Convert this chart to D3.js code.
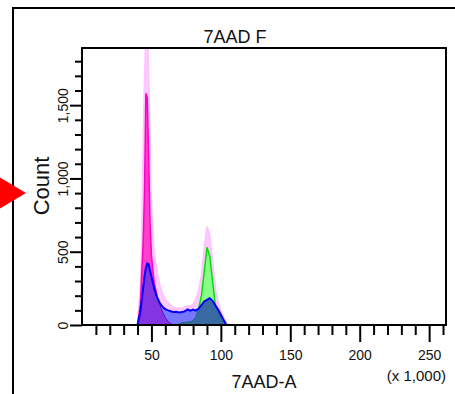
<!DOCTYPE html>
<html lang="en">
<head>
<meta charset="UTF-8">
<title>7AAD F</title>
<style>
  body { margin: 0; background: #fff; }
  svg { display: block; font-family: "Liberation Sans", Arial, sans-serif; }
  .tick line { stroke: #000; stroke-width: 2px; }
  .tick text { fill: #111; font-size: 14px; }
</style>
</head>
<body>
<div id="chart"></div>
<script src="https://d3js.org/d3.v7.min.js"></script>
<script>
  // bin centres, x 1,000
  var binK = [40,42,43,44,45,46,47,48,49,50,51,52,54,56,58,60,62,64,66,68,70,72,74,76,78,80,82,84,86,88,90,92,94,96,98,100,102,104,106];

  // all events (light pink outline)
  var allEvents = [0,220,500,1100,1600,1950,2000,1650,1150,780,600,480,360,270,210,170,150,130,118,115,112,114,120,130,125,140,170,230,330,500,670,610,420,250,150,95,50,12,0];
  // G0/G1 (magenta)
  var g1 = [0,140,350,550,900,1580,1550,1150,700,480,380,290,200,140,90,50,25,10,0,0,0,0,0,0,0,0,0,0,0,0,0,0,0,0,0,0,0,0,0];
  // G2/M (green)
  var g2 = [0,0,0,0,0,0,0,0,0,0,0,0,0,0,0,0,0,0,0,0,8,15,18,20,22,30,55,110,200,360,530,470,300,140,90,50,20,0,0];
  // second sample (blue)
  var sample = [0,90,170,250,330,390,420,415,370,330,290,250,190,150,125,108,100,94,88,90,86,88,94,106,98,106,98,112,135,160,172,182,165,135,105,70,35,0,0];

  var xMajor = [50,100,150,200,250];
  var yMajor = [0,500,1000,1500];

  var W = 455, H = 394;
  var svg = d3.select("#chart").append("svg").attr("width", W).attr("height", H);

  var plotL = 82, plotR = 446, plotT = 48, plotB = 325;
  var x = d3.scaleLinear().domain([0, 262.144]).range([plotL, plotR]);
  var y = d3.scaleLinear().domain([0, 1890]).range([plotB, plotT]);

  // outer frame
  svg.append("path")
    .attr("d", "M13," + H + "V8H" + W)
    .attr("fill", "none").attr("stroke", "#000").attr("stroke-width", 2);

  svg.append("clipPath").attr("id", "plot-clip")
    .append("rect").attr("x", plotL).attr("y", plotT)
    .attr("width", plotR - plotL).attr("height", plotB - plotT);

  var plot = svg.append("g").attr("clip-path", "url(#plot-clip)");

  function areaOf(vals) {
    return d3.area()
      .x(function(d, i) { return x(binK[i]); })
      .y0(y(0))
      .y1(function(d, i) { return y(vals[i]); })(binK);
  }
  function lineOf(vals) {
    return d3.line()
      .x(function(d, i) { return x(binK[i]); })
      .y(function(d, i) { return y(vals[i]); })(binK);
  }
  function overlap(a, b) {
    return a.map(function(v, i) { return Math.min(v, b[i]); });
  }

  plot.append("path").attr("d", areaOf(allEvents))
    .attr("fill", "#ffccff").attr("stroke", "#ffc4ff").attr("stroke-width", 2);

  plot.append("path").attr("d", areaOf(g1))
    .attr("fill", "#ff40cc").attr("stroke", "#ff00c8").attr("stroke-width", 1.5);

  plot.append("path").attr("d", areaOf(g2))
    .attr("fill", "#88ff88").attr("stroke", "#00e000").attr("stroke-width", 1.5);

  plot.append("path").attr("d", areaOf(sample))
    .attr("fill", "#7676ff");

  var purple = overlap(g1, sample);
  plot.append("path").attr("d", areaOf(purple))
    .attr("fill", "#8434e0").attr("stroke", "#6a10c0").attr("stroke-width", 1);

  var teal = overlap(g2, sample);
  plot.append("path").attr("d", areaOf(teal))
    .attr("fill", "#3a6aa4").attr("stroke", "#146a70").attr("stroke-width", 1);

  plot.append("path").attr("d", lineOf(sample))
    .attr("fill", "none").attr("stroke", "#0000ff").attr("stroke-width", 2);

  // plot frame
  svg.append("rect")
    .attr("x", plotL).attr("y", plotT)
    .attr("width", plotR - plotL).attr("height", plotB - plotT)
    .attr("fill", "none").attr("stroke", "#000").attr("stroke-width", 2);

  // x axis
  var xMinor = d3.range(10, 261, 10).filter(function(v) { return v % 50 !== 0; });
  svg.append("g").attr("transform", "translate(0," + plotB + ")")
    .call(d3.axisBottom(x).tickValues(xMinor).tickSize(10).tickFormat(""))
    .call(function(g) { g.select(".domain").remove(); });
  svg.append("g").attr("transform", "translate(0," + plotB + ")")
    .call(d3.axisBottom(x).tickValues(xMajor).tickSize(17).tickPadding(8).tickFormat(d3.format("d")))
    .call(function(g) { g.select(".domain").remove(); });

  // y axis
  var yMinor = d3.range(100, 1801, 100).filter(function(v) { return v % 500 !== 0; });
  svg.append("g").attr("transform", "translate(" + plotL + ",0)")
    .call(d3.axisLeft(y).tickValues(yMinor).tickSize(7).tickFormat(""))
    .call(function(g) { g.select(".domain").remove(); });
  svg.append("g").attr("transform", "translate(" + plotL + ",0)")
    .call(d3.axisLeft(y).tickValues(yMajor).tickSize(12).tickFormat(d3.format(",")))
    .call(function(g) {
      g.select(".domain").remove();
      g.selectAll(".tick text")
        .attr("x", 0).attr("dy", null)
        .attr("text-anchor", "middle")
        .attr("transform", "translate(-14,0) rotate(-90)");
    });

  // titles
  svg.append("text").attr("x", 235).attr("y", 43)
    .attr("text-anchor", "middle").attr("font-size", 18).attr("fill", "#111")
    .text("7AAD F");
  svg.append("text").attr("x", 264).attr("y", 388)
    .attr("text-anchor", "middle").attr("font-size", 18).attr("fill", "#111")
    .text("7AAD-A");
  svg.append("text").attr("x", 446).attr("y", 381)
    .attr("text-anchor", "end").attr("font-size", 15).attr("fill", "#111")
    .text("(x 1,000)");
  svg.append("text")
    .attr("transform", "translate(49,186) rotate(-90)")
    .attr("text-anchor", "middle").attr("font-size", 22).attr("fill", "#111")
    .text("Count");

  // red marker
  svg.append("path")
    .attr("d", "M-6,174L26,193L-6,212Z")
    .attr("fill", "#ff0000");
</script>
</body>
</html>
